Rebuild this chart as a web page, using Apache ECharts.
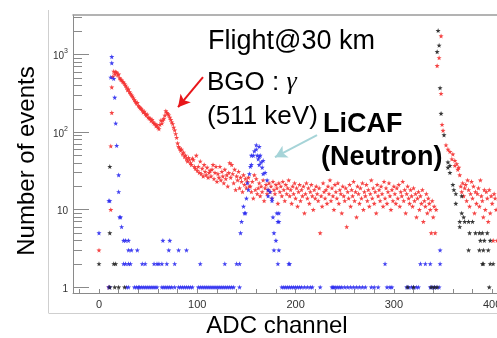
<!DOCTYPE html>
<html><head><meta charset="utf-8">
<script src="https://cdn.jsdelivr.net/npm/echarts@6/dist/echarts.min.js"></script>
<style>html,body{margin:0;padding:0;background:#fff}#c{width:497px;height:338px}</style>
</head><body><div id="c"></div><script>
// ---------------- data ----------------
// BGO (red): isolated low-channel points [channel, count]
const bgoRise = [[0,3],[10,1],[12,10],[12,66],[13,178],[13,380]];
// BGO counts per channel, starting at channel 14
const bgoBodyStart = 14;
const bgoBody = [
 520,610,560,600,590,545,560,500,480,470,450,440,420,400,380,350,360,330,316,300,
 290,275,260,250,235,240,220,212,205,200,192,180,185,174,165,170,155,152,150,140,
 145,135,130,128,120,124,115,110,125,142,130,142,150,165,188,178,172,166,155,145,
 135,128,115,106,95,85,72,65,62,58,60,52,55,48,50,45,42,47,44,40,
 38,46,44,36,34,50,32,36,30,42,29,34,27,38,31,28,35,26,30,32,
 27,33,38,25,30,36,23,29,26,36,24,31,27,22,33,25,28,20,30,40,
 26,38,29,22,33,18,27,24,31,19,26,23,17,28,21,25,19,23,26,20,
 20,17,23,14,28,18,25,16,19,22,15,20,17,24,13,19,21,16,18,22,
 17,20,14,23,18,16,21,19,12,22,17,20,15,23,18,13,21,16,19,24,
 15,18,12,20,16,22,14,19,11,17,21,13,18,15,20,9,16,22,14,19,
 12,17,21,15,10,18,14,20,16,13,19,5,15,11,22,17,14,18,12,20,
 16,24,13,19,15,10,21,17,14,22,12,18,16,9,20,15,13,19,6,17,
 14,21,11,18,15,23,13,17,8,20,16,12,19,14,22,10,17,15,21,13,
 18,11,16,24,14,19,12,17,9,21,15,18,13,20,16,11,23,14,19,12,
 17,22,15,10,18,13,20,16,12,19,14,21,11,17,15,23,13,18,9,16,
 20,14,12,18,15,11,19,13,16,8,14,17,10,15,12,18,7,13,11,16,
 9,14,12,10,5,13,8,11,5,10
];
// BGO saturation peak [channel, count]
const bgoPeak = [[344,720],[346,910],[348,1740],[348,315],[349,125],[350,105],[353,68],[355,60],
 [357,56],[359,45],[360,52],[362,43],[362,37],[364,39],[365,33],[366,35],[367,28]];
// BGO tail counts per channel, starting at channel 368
const bgoTailStart = 368;
const bgoTail = [20,17,22,15,19,21,13,24,18,11,16,23,14,20,9,17,12,16,19,11,
 24,15,13,8,18,10,17,14,7,18,9,15,12,4,16,14,10,4];

// LiCAF (blue)
const licafLow = [[0,5],[10,13],[11,13],[12,510],[13,940],[13,780],[15,490],[16,280],[17,130],[18,67],
 [20,28],[20,17],[21,8],[22,8],[23,6],[25,4],[27,4],[30,4],[65,4],[72,4],
 [30,3],[33,3],[39,3],[71,3],[81,3],[89,3]];
const licafPeak = [[144,5],[145,7],[147,11],[148,9],[149,9],[150,14],[151,22],[152,18],[153,29],[154,36],
 [155,38],[155,50],[157,50],[158,57],[160,60],[160,68],[161,50],[162,45],[163,65],[163,48],[164,50],
 [165,41],[163,38],[166,35],[167,43],[167,29],[169,30],[171,24],[172,18],[172,15],[174,17],[176,14],
 [176,13],[177,8],[178,5],[178,3],[180,4],[181,9],[182,7],[183,9],[183,7],[183,3],[347,3]];
const licafTwoCh = [25,27,30,32,44,47,56,59,61,64,69,77,103,128,140,143,182,193,194,291,327,332,337,347];
const licafOneCh = [10,11,28,30,36,38,40,41,43,45,47,49,51,53,55,57,59,64,66,68,70,72,74,77,81,83,85,87,
 89,91,93,95,101,103,105,107,109,111,113,115,117,119,121,123,125,127,129,131,133,135,137,143,
 186,188,190,192,194,196,198,200,202,204,206,209,212,215,217,225,237,238,239,241,243,245,247,250,
 253,256,259,262,265,268,271,277,280,284,293,296,298,313,315,318,320,323,325,337,339,341,343,346];

// third detector (black)
const otherPts = [[0,2],[11,5],[11,36],[15,2],[17,2],
 [345,2040],[346,1320],[344,1090],[347,372],[348,174],[351,92],[355,41],[355,35],[357,37],[357,30],
 [360,21],[361,18],[363,16],[363,12],[369,15],[369,9],[367,7],[367,6],[372,7],[376,7],[380,7],[371,8],
 [377,5],[383,5],[387,5],[390,5],[395,5],[388,4],[392,4],[398,4],[376,3],[387,3],[391,3],[396,3],
 [390,2],[391,2],[398,2],[401,2],[397,1]];
const otherOneCh = [11,16,20,26,314,320,338,341,344];

const xLabelValues = [0,100,200,300,400];
const xTickValues = [-20,0,20,40,60,80,100,120,140,160,180,200,220,240,260,280,300,320,340,360,380,400];
const yMajor = [1,10,100,1000];
const yMinor = [2,3,4,5,6,7,8,9,20,30,40,50,60,70,80,90,200,300,400,500,600,700,800,900,2000,3000];

// ---------------- build ----------------
const seq = (start, arr) => arr.map((v, i) => [start + i, v]);
const lvl = (chs, n) => chs.map(c => [c, n]);
const bgoData = bgoRise.concat(seq(bgoBodyStart, bgoBody), bgoPeak, seq(bgoTailStart, bgoTail));
const licafData = licafLow.concat(licafPeak, lvl(licafTwoCh, 2), lvl(licafOneCh, 1));
const otherData = otherPts.concat(lvl(otherOneCh, 1));

const FONT = '"Liberation Sans", Arial, sans-serif';
const STAR = 'path://M0,-10L2.4,-3.2L9.5,-3.1L3.8,1.8L5.9,8.1L0,4.3L-5.9,8.1L-3.8,1.8L-9.5,-3.1L-2.4,-3.2Z';
const XMIN = -26.45, XMAX = 404.9, YMIN = 0.84, YMAX = 3245;
const AX = '#8a8a8a';

const chart = echarts.init(document.getElementById('c'));
chart.setOption({
  animation: false,
  backgroundColor: '#fff',
  grid: { left: 73, right: 0, top: 15, bottom: 45, containLabel: false, outerBoundsMode: 'none' },
  xAxis: [
    { type: 'value', min: XMIN, max: XMAX, position: 'bottom',
      axisLine: { show: true, onZero: false, lineStyle: { color: AX, width: 1 } },
      axisTick: { show: true, inside: true, length: 4, customValues: xTickValues, lineStyle: { color: AX } },
      axisLabel: { customValues: xLabelValues, color: '#333', fontSize: 11, margin: 6, fontFamily: FONT, hideOverlap: false },
      splitLine: { show: false } },
    { type: 'value', min: XMIN, max: XMAX, position: 'top',
      axisLine: { show: true, onZero: false, lineStyle: { color: '#9a9a9a', width: 1.5 } },
      axisTick: { show: false }, axisLabel: { show: false }, splitLine: { show: false } }
  ],
  yAxis: [
    { type: 'log', logBase: 10, min: YMIN, max: YMAX,
      axisLine: { show: true, onZero: false, lineStyle: { color: AX, width: 1 } },
      axisTick: { show: true, inside: true, length: 16, customValues: yMajor, lineStyle: { color: AX } },
      axisLabel: { customValues: yMajor, margin: 5, color: '#333', fontFamily: FONT,
        formatter: v => { const e = Math.round(Math.log10(v)); return e === 0 ? '{b|1}' : e === 1 ? '{b|10}' : '{b|10}{s|' + e + '}'; },
        rich: { b: { fontSize: 10, fontFamily: FONT, color: '#333', lineHeight: 14, verticalAlign: 'bottom' },
                s: { fontSize: 7, fontFamily: FONT, color: '#333', lineHeight: 14, verticalAlign: 'top' } } },
      splitLine: { show: false } },
    { type: 'log', logBase: 10, min: YMIN, max: YMAX, position: 'left',
      axisLine: { show: false, onZero: false },
      axisTick: { show: true, inside: true, length: 9, customValues: yMinor, lineStyle: { color: AX } },
      axisLabel: { show: false }, splitLine: { show: false } }
  ],
  series: [
    { type: 'scatter', name: 'BGO', data: bgoData, symbol: STAR, symbolSize: 5,
      itemStyle: { color: '#f43030', opacity: 0.9 }, z: 2,
      markLine: { silent: true, symbol: ['none', 'arrow'], symbolSize: [10, 12], label: { show: false },
        lineStyle: { color: '#e8161a', width: 2, type: 'solid' },
        data: [[{ coord: [105.8, 512] }, { coord: [80.4, 210] }]] } },
    { type: 'scatter', name: 'LiCAF', data: licafData, symbol: STAR, symbolSize: 5,
      itemStyle: { color: '#2c2cf0', opacity: 0.9 }, z: 3,
      markLine: { silent: true, symbol: ['none', 'arrow'], symbolSize: [10, 12], label: { show: false },
        lineStyle: { color: '#a6d4d8', width: 2, type: 'solid' },
        data: [[{ coord: [221.8, 91.6] }, { coord: [179, 47.5] }]] } },
    { type: 'scatter', name: 'other', data: otherData, symbol: STAR, symbolSize: 5,
      itemStyle: { color: '#222', opacity: 0.9 }, z: 4 }
  ],
  graphic: [
    { type: 'line', shape: { x1: 48.5, y1: 10, x2: 48.5, y2: 313 }, style: { stroke: '#cfcfcf', lineWidth: 1 }, silent: true },
    { type: 'line', shape: { x1: 48.5, y1: 313.5, x2: 497, y2: 313.5 }, style: { stroke: '#cfcfcf', lineWidth: 1 }, silent: true },
    { type: 'text', x: 27, y: 161, rotation: Math.PI / 2, silent: true,
      style: { text: 'Number of events', fontSize: 24, fontFamily: FONT, fill: '#000', align: 'center', verticalAlign: 'middle' } },
    { type: 'text', x: 277, y: 326, silent: true,
      style: { text: 'ADC channel', fontSize: 24, fontFamily: FONT, fill: '#000', align: 'center', verticalAlign: 'middle' } },
    { type: 'text', x: 208, y: 42, silent: true,
      style: { text: 'Flight@30 km', fontSize: 27, fontFamily: FONT, fill: '#000', align: 'left', verticalAlign: 'middle' } },
    { type: 'text', x: 207, y: 82.5, silent: true,
      style: { text: 'BGO : {g|γ}', fontSize: 26, fontFamily: FONT, fill: '#000', align: 'left', verticalAlign: 'middle',
        rich: { g: { fontSize: 26, fontFamily: '"Liberation Serif", "DejaVu Serif", serif', fontStyle: 'italic', fill: '#000' } } } },
    { type: 'text', x: 207, y: 117, silent: true,
      style: { text: '(511 keV)', fontSize: 26, fontFamily: FONT, fill: '#000', align: 'left', verticalAlign: 'middle' } },
    { type: 'text', x: 323, y: 125, silent: true,
      style: { text: 'LiCAF', fontSize: 27, fontWeight: 'bold', fontFamily: FONT, fill: '#000', align: 'left', verticalAlign: 'middle' } },
    { type: 'text', x: 321, y: 157.5, silent: true,
      style: { text: '(Neutron)', fontSize: 27, fontWeight: 'bold', fontFamily: FONT, fill: '#000', align: 'left', verticalAlign: 'middle' } }
  ]
});
</script></body></html>
